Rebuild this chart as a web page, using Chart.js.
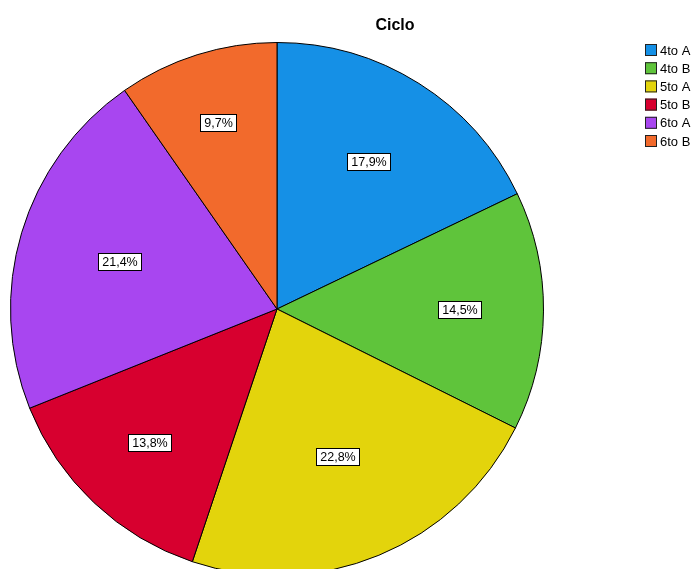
<!DOCTYPE html>
<html>
<head>
<meta charset="utf-8">
<script src="https://cdn.jsdelivr.net/npm/chart.js@4"></script>
<style>
  html, body { margin: 0; padding: 0; background: #fff; overflow: hidden; }
  #wrap { width: 699px; height: 580px; position: relative; }
</style>
</head>
<body>
<div id="wrap"><canvas id="chart" width="699" height="580"></canvas></div>
<script>
const categories = ['4to A', '4to B', '5to A', '5to B', '6to A', '6to B'];
const percentages = [17.9, 14.5, 22.8, 13.8, 21.4, 9.7];
const colors = ['#1590e6', '#5fc43b', '#e3d40c', '#d7002f', '#a846f0', '#f26a2c'];
const chartTitle = 'Ciclo';

// Titel, Legende und Labels selbst zeichnen
const extras = {
  id: 'extras',
  afterDraw(chart) {
    const ctx = chart.ctx;
    ctx.save();
    ctx.fillStyle = '#000';
    ctx.font = 'bold 16px "Liberation Sans", Arial, sans-serif';
    ctx.textAlign = 'center';
    ctx.textBaseline = 'middle';
    ctx.fillText(chartTitle, 395, 26);

    ctx.font = '13px "Liberation Sans", Arial, sans-serif';
    ctx.textAlign = 'left';
    categories.forEach((c, i) => {
      const y = 50 + i * 18.2;
      ctx.fillStyle = colors[i];
      ctx.fillRect(645, y - 6, 12, 12);
      ctx.strokeStyle = '#222';
      ctx.lineWidth = 1;
      ctx.strokeRect(645.5, y - 5.5, 11, 11);
      ctx.fillStyle = '#000';
      ctx.fillText(c, 660, y + 1);
    });

    // Prozent-Labels: kleinere Segmente weiter aussen
    const meta = chart.getDatasetMeta(0);
    ctx.font = '12.5px "Liberation Sans", Arial, sans-serif';
    ctx.textAlign = 'center';
    meta.data.forEach((arc, i) => {
      const p = arc.getProps(['x', 'y', 'startAngle', 'endAngle', 'outerRadius'], true);
      const a = (p.startAngle + p.endAngle) / 2;
      const r = p.outerRadius * (0.83 - 0.01 * percentages[i]);
      const lx = p.x + Math.cos(a) * r;
      const ly = p.y + Math.sin(a) * r;
      const txt = percentages[i].toFixed(1).replace('.', ',') + '%';
      const w = Math.round(ctx.measureText(txt).width + 9);
      const h = 18;
      const bx = Math.round(lx - w / 2), by = Math.round(ly - h / 2);
      ctx.fillStyle = '#fff';
      ctx.fillRect(bx, by, w, h);
      ctx.strokeStyle = '#000';
      ctx.strokeRect(bx + 0.5, by + 0.5, w - 1, h - 1);
      ctx.fillStyle = '#000';
      ctx.fillText(txt, bx + w / 2, by + h / 2 + 1);
    });
    ctx.restore();
  }
};

new Chart(document.getElementById('chart'), {
  type: 'pie',
  data: {
    labels: categories,
    datasets: [{
      data: percentages,
      backgroundColor: colors,
      borderColor: '#000',
      borderWidth: 1
    }]
  },
  options: {
    responsive: false,
    animation: false,
    layout: { padding: { left: 10, right: 155, top: 42, bottom: 4 } },
    plugins: {
      legend: { display: false },
      tooltip: { enabled: false }
    }
  },
  plugins: [extras]
});
</script>
</body>
</html>
